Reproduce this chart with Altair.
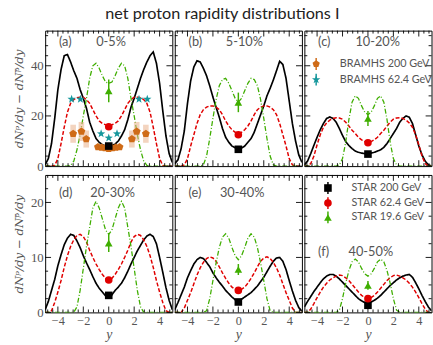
import altair as alt
import pandas as pd

# ---------------------------------------------------------------- data ----
RAPIDITY = [round(-5 + 0.25 * i, 2) for i in range(41)]

PANEL_TAGS = ["(a)", "(b)", "(c)", "(d)", "(e)", "(f)"]
CENTRALITY = ["0-5%", "5-10%", "10-20%", "20-30%", "30-40%", "40-50%"]
ENERGIES = ["200 GeV", "62.4 GeV", "19.6 GeV"]

# model net-proton dN/dy at 200 GeV, one list per centrality class
MODEL_200_A = [0.5, 3, 9, 19, 30.5, 38.5, 44, 44.5, 41.5, 38, 35, 30.5, 27, 23, 17.5, 14, 11, 9.5, 8.5, 8, 7.8,
               8.2, 8.8, 10, 12, 14.5, 18.5, 23.5, 27, 31, 35, 38.5, 41.5, 44, 45.5, 41, 33, 22, 12, 5, 1.5]
MODEL_200_B = [1, 2.5, 7, 14, 25, 34, 39.5, 42, 41.5, 39, 36, 32, 27.5, 23.5, 19.5, 15, 11.5, 9.5, 8, 7.3, 6.8,
               7.2, 8, 9.5, 11, 13.5, 17, 20.5, 24, 28, 31, 34.3, 38, 41.8, 40.5, 35, 26, 17, 10, 4.5, 1.5]
MODEL_200_C = [0.5, 2, 5, 8.3, 11.5, 14.5, 17, 19, 19.6, 19, 17.5, 15, 12.2, 9.8, 8.2, 7, 6, 5.5, 5.2, 5, 4.8,
               5.2, 5.5, 6, 6.5, 7.5, 9, 11, 13, 15, 17.5, 19, 20, 19.5, 17, 12.5, 8, 4.5, 2, 0.5, 0]
MODEL_200_D = [0.5, 2, 4, 6, 8.5, 10.5, 12.3, 13.5, 14.2, 14, 13, 11.8, 10.3, 9, 7.8, 6.5, 5.3, 4.4, 3.7, 3, 2.7,
               3.2, 4, 4.6, 5.3, 6.3, 7.5, 8.8, 10, 11.2, 12.2, 13.2, 13.9, 14.2, 13.8, 12.5, 10, 7.3, 4.5, 2.2, 0.5]
MODEL_200_E = [0.5, 1.8, 3.2, 4.6, 6.3, 7.6, 8.8, 9.6, 10, 9.8, 9.1, 8.3, 7.2, 6.3, 5.5, 4.8, 4, 3.4, 2.8, 2.3, 2,
               2.4, 2.8, 3.2, 3.6, 4.2, 4.8, 5.6, 6.4, 7.4, 8.4, 9.3, 9.9, 10, 9.3, 7.8, 5.8, 3.9, 2.2, 0.9, 0.2]
MODEL_200_F = [1, 2, 2.9, 3.8, 4.6, 5.4, 6.1, 6.6, 6.9, 6.9, 6.6, 6.1, 5.5, 4.9, 4.3, 3.7, 3.1, 2.5, 2.1, 1.8, 1.6,
               1.9, 2.2, 2.6, 3.1, 3.7, 4.3, 4.9, 5.4, 5.9, 6.3, 6.6, 6.8, 6.9, 6.4, 5.4, 4.3, 3.1, 2, 1, 0.3]

# model net-proton dN/dy at 62.4 GeV
MODEL_62_A = [0, 0, 0, 0.3, 3, 9, 15.5, 21.5, 25, 26.5, 27.3, 27.5, 27.5, 26.5, 25, 22.5, 20, 18, 17, 16.5, 16.3,
              16.5, 17, 18, 20, 22.5, 25, 26.5, 27.5, 27.5, 27.3, 26.5, 25, 21.5, 15.5, 9, 3, 0.3, 0, 0, 0]
MODEL_62_B = [0, 0, 0, 0.5, 3, 8, 12.5, 17, 20.5, 22.5, 23.5, 24, 24, 23.5, 22.5, 20.5, 18, 16, 14.5, 13.5, 13.2,
              13.5, 14.5, 16, 18, 20.5, 22.5, 23.5, 24, 24, 23.5, 22.5, 20.5, 17, 12.5, 8, 3, 0.5, 0, 0, 0]
MODEL_62_C = [0, 0, 1, 4, 8.5, 12.5, 15.5, 17.2, 18.3, 19, 19.3, 19.2, 18.7, 17.5, 16, 14.3, 13, 11.5, 10.5, 9.8, 9.5,
              9.8, 10.5, 11.5, 13, 14.3, 16, 17.5, 18.7, 19.2, 19.3, 19, 18.3, 17.2, 15.5, 12.5, 8.5, 4, 1, 0, 0]
MODEL_62_D = [0, 0, 0.3, 1.8, 3.7, 5.8, 8.2, 10.3, 12, 13.2, 14, 14.2, 13.8, 12.8, 11.3, 10, 8.8, 7.8, 6.9, 6.2, 6.0,
              6.2, 6.9, 7.8, 8.8, 10, 11.3, 12.8, 13.8, 14.2, 14, 13.2, 12, 10.3, 8.2, 5.8, 3.7, 1.8, 0.3, 0, 0]
MODEL_62_E = [0, 0, 0, 0.8, 2.2, 3.6, 5.2, 6.8, 8.1, 9.1, 9.8, 10.1, 9.9, 9.3, 8.3, 7.2, 6.2, 5.3, 4.6, 4.2, 4.0,
              4.2, 4.6, 5.3, 6.2, 7.2, 8.3, 9.3, 9.9, 10.1, 9.8, 9.1, 8.1, 6.8, 5.2, 3.6, 2.2, 0.8, 0, 0, 0]
MODEL_62_F = [0, 0, 0.6, 1.6, 2.7, 3.7, 4.6, 5.3, 5.9, 6.3, 6.6, 6.8, 6.7, 6.3, 5.8, 5.1, 4.4, 3.7, 3.1, 2.7, 2.6,
              2.7, 3.1, 3.7, 4.4, 5.1, 5.8, 6.3, 6.7, 6.8, 6.6, 6.3, 5.9, 5.3, 4.6, 3.7, 2.7, 1.6, 0.6, 0, 0]

# model net-proton dN/dy at 19.6 GeV
MODEL_19_A = [0, 0, 0, 0, 0, 0, 0, 0, 0.3, 2, 6.5, 12.5, 20, 27, 35, 40, 41, 39, 36, 33.5, 33,
              33.5, 36, 39, 41, 40, 35, 27, 20, 12.5, 6.5, 2, 0.3, 0, 0, 0, 0, 0, 0, 0, 0]
MODEL_19_B = [0, 0, 0, 0, 0, 0, 0, 0, 0, 0.5, 4, 11, 19, 26.5, 32, 34.5, 35, 33, 30, 27, 25.5,
              27, 30, 33, 35, 34.5, 32, 26.5, 19, 11, 4, 0.5, 0, 0, 0, 0, 0, 0, 0, 0, 0]
MODEL_19_C = [0, 0, 0, 0, 0, 0, 0, 0, 0, 0, 0, 0.5, 3, 9.5, 18.5, 25.5, 28, 27, 24, 21.5, 20.5,
              21.5, 24, 27, 28, 25.5, 18.5, 9.5, 3, 0.5, 0, 0, 0, 0, 0, 0, 0, 0, 0, 0, 0]
MODEL_19_D = [0, 0, 0, 0, 0, 0, 0, 0, 0, 0, 1, 4, 8, 12, 15.5, 19, 20.2, 19, 17, 15, 14.2,
              15, 17, 19, 20.2, 19, 15.5, 12, 8, 4, 1, 0, 0, 0, 0, 0, 0, 0, 0, 0, 0]
MODEL_19_E = [0, 0, 0, 0, 0, 0, 0, 0, 0, 0, 0.3, 2.5, 5.8, 9, 11.8, 13.7, 14.3, 13.5, 11.8, 10.3, 9.6,
              10.3, 11.8, 13.5, 14.3, 13.7, 11.8, 9, 5.8, 2.5, 0.3, 0, 0, 0, 0, 0, 0, 0, 0, 0, 0]
MODEL_19_F = [0, 0, 0, 0, 0, 0, 0, 0, 0, 0, 0, 0.4, 2.5, 5.3, 7.6, 9.2, 9.7, 9.2, 8, 7, 6.6,
              7, 8, 9.2, 9.7, 9.2, 7.6, 5.3, 2.5, 0.4, 0, 0, 0, 0, 0, 0, 0, 0, 0, 0, 0]

MODEL_200 = [MODEL_200_A, MODEL_200_B, MODEL_200_C, MODEL_200_D, MODEL_200_E, MODEL_200_F]
MODEL_62 = [MODEL_62_A, MODEL_62_B, MODEL_62_C, MODEL_62_D, MODEL_62_E, MODEL_62_F]
MODEL_19 = [MODEL_19_A, MODEL_19_B, MODEL_19_C, MODEL_19_D, MODEL_19_E, MODEL_19_F]

# STAR mid-rapidity net protons (value, error) per centrality class
STAR_200 = [8.0, 6.7, 4.8, 3.1, 1.9, 1.3]
STAR_200_ERR = [1.0, 1.0, 0.8, 0.5, 0.4, 0.3]
STAR_62 = [15.7, 12.5, 9.3, 5.9, 4.0, 2.5]
STAR_62_ERR = [1.0, 1.0, 0.8, 0.5, 0.4, 0.5]
STAR_19 = [30.0, 25.4, 19.0, 12.6, 7.8, 4.9]
STAR_19_ERR = [4.5, 3.9, 3.0, 1.6, 1.0, 0.8]

# BRAHMS central (0-5%) net protons
BRAHMS_200_Y = [-2.8, -2.15, -1.77, -0.85, -0.55, -0.28, 0.0, 0.28, 0.55, 0.85, 1.82, 2.2, 2.92]
BRAHMS_200_V = [12.9, 13.8, 10.8, 7.6, 7.4, 7.2, 7.0, 7.2, 7.4, 7.6, 10.8, 13.8, 12.9]
BRAHMS_200_SYS = [3.6, 3.8, 3.4, 0, 0, 0, 0, 0, 0, 0, 3.4, 3.8, 3.6]
BRAHMS_62_Y = [-2.92, -2.23, -0.6, 0.0, 0.65, 2.38, 3.03]
BRAHMS_62_V = [26.7, 26.7, 12.9, 11.2, 12.9, 26.7, 26.7]

LEGEND_BRAHMS = ["BRAMHS 200 GeV", "BRAMHS 62.4 GeV"]
LEGEND_STAR = ["STAR 200 GeV", "STAR 62.4 GeV", "STAR 19.6 GeV"]

X_MAJOR = [-4, -2, 0, 2, 4]
X_MINOR = [-4.8, -4.4, -3.6, -3.2, -2.8, -2.4, -1.6, -1.2, -0.8, -0.4,
           0.4, 0.8, 1.2, 1.6, 2.4, 2.8, 3.2, 3.6, 4.4, 4.8]
Y_MAJOR_TOP = [0, 20, 40]
Y_MINOR_TOP = [4, 8, 12, 16, 24, 28, 32, 36, 44, 48, 52]
Y_MAJOR_BOTTOM = [0, 10, 20]
Y_MINOR_BOTTOM = [2.5, 5, 7.5, 12.5, 15, 17.5, 22.5]

# --------------------------------------------------------------- style ----
W = 129.5
H_TOP, H_BOTTOM = 138, 140
SANS = "Lato"
SERIF = "Liberation Serif"
GRAY = "#555555"
COLORS = ["#000000", "#e00000", "#3fae00"]
DASHES = [[1, 0], [4, 2], [5, 2, 1, 2]]
WIDTHS = [1.7, 1.3, 1.2]
ORANGE = "#cf6b17"
TEAL = "#16979c"
PENTAGON = "M0,-1L0.951,-0.309L0.588,0.809L-0.588,0.809L-0.951,-0.309Z"
STAR = ("M0,-1L0.235,-0.324L0.951,-0.309L0.380,0.124L0.588,0.809L0,0.4"
        "L-0.588,0.809L-0.380,0.124L-0.951,-0.309L-0.235,-0.324Z")
YTITLE = "dN\u1d56/dy \u2212 dN\u1d56\u0304/dy"


def panel(k):
    top = k < 3
    first_col = k % 3 == 0
    h = H_TOP if top else H_BOTTOM
    ymax = 54 if top else 25
    y_major = Y_MAJOR_TOP if top else Y_MAJOR_BOTTOM
    y_minor = Y_MINOR_TOP if top else Y_MINOR_BOTTOM
    xs = alt.Scale(domain=[-5, 5], nice=False, zero=False)
    ys = alt.Scale(domain=[0, ymax], nice=False, zero=False)

    x_axis = None
    if not top:
        x_axis = alt.Axis(values=X_MAJOR, ticks=False, domain=False, grid=False,
                          labelFont=SERIF, labelFontSize=12.5, labelColor=GRAY, labelPadding=2,
                          title="y", titleFont=SERIF, titleFontStyle="italic",
                          titleFontWeight="normal", titleFontSize=14, titleColor=GRAY,
                          titlePadding=1)
    y_axis = None
    if first_col:
        y_axis = alt.Axis(values=y_major, ticks=False, domain=False, grid=False,
                          labelFont=SERIF, labelFontSize=13, labelColor=GRAY, labelPadding=2,
                          title=YTITLE, titleFont="DejaVu Serif", titleFontStyle="italic",
                          titleFontWeight="normal", titleFontSize=12, titleColor=GRAY,
                          titlePadding=5)

    # every layer carries the same scale and axis, so they merge cleanly
    def X(field):
        return alt.X(field, type="quantitative", scale=xs, axis=x_axis)

    def Y(field):
        return alt.Y(field, type="quantitative", scale=ys, axis=y_axis)

    def text_at(label, x, y, size=13):
        return alt.Chart(pd.DataFrame({"t": [label]})).mark_text(
            align="left", baseline="middle", font=SANS, fontSize=size, color=GRAY
        ).encode(text="t:N", x=alt.value(x), y=alt.value(y))

    def legend_entry(label, x, y, color, shape, size):
        one = alt.Chart(pd.DataFrame({"t": [label]}))
        bar = one.mark_rule(color=color, strokeWidth=1.5).encode(
            x=alt.value(x), y=alt.value(y - 6), y2=alt.value(y + 6))
        dot = one.mark_point(filled=True, opacity=1, color=color, shape=shape, size=size).encode(
            x=alt.value(x), y=alt.value(y))
        return [bar, dot, text_at(label, x + 24, y, 11)]

    rows = []
    for energy, curves in zip(ENERGIES, (MODEL_200, MODEL_62, MODEL_19)):
        for r, v in zip(RAPIDITY, curves[k]):
            rows.append({"energy": energy, "rap": r, "val": v})
    curves_df = pd.DataFrame(rows)

    energy_color = alt.Color("energy:N", scale=alt.Scale(domain=ENERGIES, range=COLORS), legend=None)
    lines = alt.Chart(curves_df).mark_line(clip=True).encode(
        x=X("rap"), y=Y("val"),
        color=energy_color,
        strokeDash=alt.StrokeDash("energy:N", scale=alt.Scale(domain=ENERGIES, range=DASHES), legend=None),
        strokeWidth=alt.StrokeWidth("energy:N", scale=alt.Scale(domain=ENERGIES, range=WIDTHS), legend=None),
        order=alt.Order("rap:Q"),
    )

    star_df = pd.DataFrame({
        "energy": ENERGIES,
        "rap": [0.0, 0.0, 0.0],
        "val": [STAR_200[k], STAR_62[k], STAR_19[k]],
        "err": [STAR_200_ERR[k], STAR_62_ERR[k], STAR_19_ERR[k]],
    })
    star_df["lo"] = star_df["val"] - star_df["err"]
    star_df["hi"] = star_df["val"] + star_df["err"]
    star_bars = alt.Chart(star_df).mark_rule(strokeWidth=1.5).encode(
        x=X("rap"), y=Y("lo"), y2="hi:Q", color=energy_color)
    star_pts = alt.Chart(star_df).mark_point(filled=True, opacity=1, size=60).encode(
        x=X("rap"), y=Y("val"),
        color=energy_color,
        shape=alt.Shape("energy:N", scale=alt.Scale(domain=ENERGIES,
                        range=["square", "circle", "triangle-up"]), legend=None))

    layers = [lines]

    if k == 0:
        b200 = pd.DataFrame({"rap": BRAHMS_200_Y, "val": BRAHMS_200_V, "sys": BRAHMS_200_SYS})
        b200["lo"] = b200["val"] - b200["sys"]
        b200["hi"] = b200["val"] + b200["sys"]
        b200["x0"] = b200["rap"] - 0.22
        b200["x1"] = b200["rap"] + 0.22
        boxes = alt.Chart(b200[b200["sys"] > 0]).mark_rect(color="#eab08a", opacity=0.55).encode(
            x=X("x0"), x2="x1:Q", y=Y("lo"), y2="hi:Q")
        b200_pts = alt.Chart(b200).mark_point(filled=True, opacity=1, color=ORANGE,
                                              shape=PENTAGON, size=70).encode(x=X("rap"), y=Y("val"))
        b62 = pd.DataFrame({"rap": BRAHMS_62_Y, "val": BRAHMS_62_V})
        b62_pts = alt.Chart(b62).mark_point(filled=True, opacity=1, color=TEAL,
                                            shape=STAR, size=80).encode(x=X("rap"), y=Y("val"))
        layers += [boxes, b200_pts, b62_pts]

    layers += [star_bars, star_pts]

    # inward ticks on all four sides
    for vals, length in ((X_MAJOR, 6), (X_MINOR, 3)):
        base = alt.Chart(pd.DataFrame({"t": vals})).mark_rule(color="black", strokeWidth=0.9)
        layers.append(base.encode(x=X("t"), y=alt.value(h), y2=alt.value(h - length)))
        layers.append(base.encode(x=X("t"), y=alt.value(0), y2=alt.value(length)))
    for vals, length in ((y_major, 6), (y_minor, 3)):
        base = alt.Chart(pd.DataFrame({"t": vals})).mark_rule(color="black", strokeWidth=0.9)
        layers.append(base.encode(y=Y("t"), x=alt.value(0), x2=alt.value(length)))
        layers.append(base.encode(y=Y("t"), x=alt.value(W), x2=alt.value(W - length)))

    # panel tag and centrality class
    if k < 3:
        layers += [text_at(PANEL_TAGS[k], 14, 12), text_at(CENTRALITY[k], 52, 12)]
    elif k < 5:
        layers += [text_at(PANEL_TAGS[k], 14, 18), text_at(CENTRALITY[k], 46, 18)]
    else:
        layers += [text_at(PANEL_TAGS[k], 14, 79), text_at(CENTRALITY[k], 45, 79)]

    if k == 2:
        layers += legend_entry(LEGEND_BRAHMS[0], 12, 34, ORANGE, PENTAGON, 60)
        layers += legend_entry(LEGEND_BRAHMS[1], 12, 50, TEAL, STAR, 80)
    if k == 5:
        layers += legend_entry(LEGEND_STAR[0], 24, 13.3, COLORS[0], "square", 60)
        layers += legend_entry(LEGEND_STAR[1], 24, 28.6, COLORS[1], "circle", 60)
        layers += legend_entry(LEGEND_STAR[2], 24, 43.3, COLORS[2], "triangle-up", 60)

    return alt.layer(*layers).properties(width=W, height=h)


row_top = alt.hconcat(panel(0), panel(1), panel(2), spacing=0)
row_bottom = alt.hconcat(panel(3), panel(4), panel(5), spacing=0)

chart = alt.vconcat(row_top, row_bottom, spacing=0).properties(
    title=alt.TitleParams("net proton rapidity distributions I", font=SANS, fontSize=16.5,
                          fontWeight="normal", color="#222222", anchor="middle", offset=7),
    padding={"left": 12, "top": 3, "right": 0, "bottom": 0},
).configure_view(stroke="black", strokeWidth=1).configure_concat(spacing=0)

chart.save("out.html", embed_options={"renderer": "svg", "actions": False})
